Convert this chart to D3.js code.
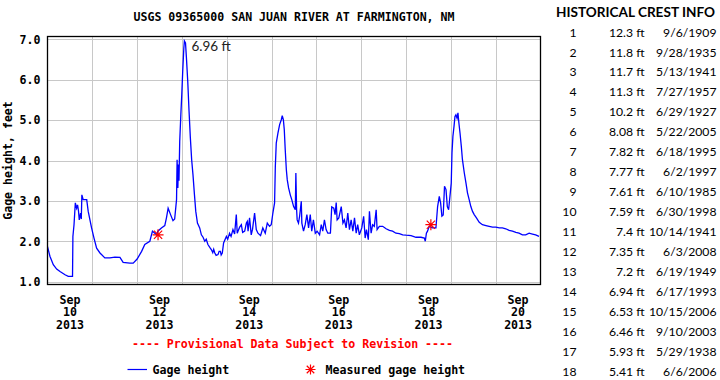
<!DOCTYPE html>
<html>
<head>
<meta charset="utf-8">
<script src="https://cdn.jsdelivr.net/npm/d3@7"></script>
<style>
  html, body { margin: 0; padding: 0; background: #fff; }
  svg { display: block; }
  .mono { font-family: "DejaVu Sans Mono", "Liberation Mono", monospace; font-weight: bold; font-size: 11.6px; }
  .sans { font-family: Lato, "Open Sans", sans-serif; }
</style>
</head>
<body>
<svg id="chart" width="720" height="380"></svg>
<script>
// ---------------- DATA ----------------
const chartTitle = "USGS 09365000 SAN JUAN RIVER AT FARMINGTON, NM";
const yAxisTitle = "Gage height, feet";
const provisionalNote = "---- Provisional Data Subject to Revision ----";
const startTime = "2013-09-10T00:00:00";
const endTime = "2013-09-21T00:00:00";

// gage height series: [hours since Sep 10 00:00, feet]
const gageHeight = [
  [0,1.87],[1.3,1.63],[3.1,1.42],[4.9,1.31],[6.7,1.25],[9.4,1.17],[11.1,1.13],[13.4,1.13],
  [13.6,2.12],[14.2,2.41],[14.9,2.95],[15.6,2.82],[16.1,2.9],[16.6,2.75],[17.0,2.53],[17.7,2.7],
  [18.1,2.55],[18.4,3.15],[19.1,3.03],[21.0,3.03],[21.8,2.74],[23.6,2.33],[24.9,2.08],[26.3,1.83],
  [28.1,1.71],[30.7,1.59],[33.4,1.59],[36.1,1.61],[38.8,1.60],[40.5,1.48],[44.1,1.46],[45.9,1.46],
  [48.0,1.56],[50.4,1.75],[52.1,1.92],[54.8,2.0],[56.2,2.25],[57.5,2.2],[58.4,2.16],[59.1,2.25],
  [61.0,2.33],[62.8,2.39],[63.7,2.58],[64.6,2.82],[65.9,2.66],[67.2,2.51],[68.1,2.55],[69.1,3.03],
  [69.4,4.02],[69.8,3.32],[70.1,3.9],[70.4,3.5],[70.8,4.47],[71.4,5.13],[71.9,5.63],[72.4,6.2],
  [73.0,6.78],[73.3,6.96],[73.9,6.91],[74.4,6.54],[75.1,5.96],[75.8,5.22],[76.5,4.56],[77.2,4.02],
  [77.9,3.65],[78.7,3.15],[79.4,2.74],[80.3,2.45],[81.5,2.33],[82.4,2.16],[83.3,2.1],[84.2,2.0],
  [85.0,2.05],[85.9,1.92],[86.9,1.85],[87.8,1.79],[88.5,1.72],[89.0,1.8],[89.6,1.71],[90.3,1.65],
  [91.3,1.67],[91.9,1.75],[92.6,1.75],[93.0,1.66],[93.6,1.71],[94.3,1.96],[95.8,2.12],[96.5,2.05],
  [97.5,2.2],[98.3,2.12],[99.3,2.29],[100.2,2.18],[101.1,2.66],[101.6,2.2],[102.0,2.25],[102.9,2.35],
  [103.8,2.41],[104.5,2.22],[105.6,2.25],[106.5,2.45],[107.0,2.49],[107.4,2.25],[108.2,2.58],[109.1,2.16],
  [109.8,2.3],[110.9,2.7],[111.8,2.29],[112.7,2.2],[114.1,2.14],[115.3,2.33],[116.6,2.2],[117.7,2.45],
  [118.9,2.37],[119.8,2.41],[120.7,2.7],[121.6,2.95],[122.0,3.85],[122.5,4.43],[123.4,4.68],[124.3,4.89],
  [125.2,5.01],[125.7,5.11],[126.3,5.01],[126.8,4.76],[127.3,4.27],[127.9,3.77],[128.4,3.52],[129.1,3.32],
  [130.0,3.15],[130.8,3.03],[131.8,2.86],[132.7,2.78],[133.0,3.69],[133.4,2.78],[133.7,2.53],[134.4,2.45],
  [135.0,2.62],[135.9,2.99],[136.2,2.45],[137.1,2.25],[138.0,2.41],[138.9,2.66],[139.8,2.33],[140.7,2.66],
  [141.5,2.25],[142.4,2.53],[143.4,2.2],[144.4,2.25],[145.7,2.16],[146.6,2.41],[147.4,2.25],[148.3,2.53],
  [149.2,2.29],[150.1,2.2],[151.5,2.2],[152.2,2.85],[153.3,2.82],[154.0,2.66],[154.6,2.96],[155.1,2.53],
  [156.0,2.58],[157.3,2.86],[158.2,2.45],[159.0,2.53],[159.9,2.33],[160.8,2.7],[161.7,2.29],[162.6,2.53],
  [163.5,2.25],[164.4,2.58],[165.3,2.2],[166.1,2.41],[167.0,2.16],[168.3,2.33],[169.3,2.62],[170.1,2.08],
  [170.8,2.29],[171.8,2.04],[172.4,2.74],[173.3,2.2],[174.1,2.41],[175.0,2.37],[176.0,2.78],[176.5,2.29],
  [177.7,2.37],[179.5,2.37],[181.3,2.31],[183.1,2.27],[184.8,2.25],[186.6,2.2],[188.4,2.19],[190.2,2.16],
  [192.0,2.15],[194.7,2.14],[197.3,2.1],[200.0,2.1],[201.8,2.08],[202.3,2.0],[202.9,2.2],[203.5,2.25],
  [204.4,2.37],[206.2,2.33],[208.0,2.33],[208.9,2.86],[209.8,3.11],[210.5,2.95],[211.2,2.62],[211.9,2.65],
  [212.6,3.36],[213.4,3.28],[214.1,2.86],[214.8,2.78],[215.5,3.11],[216.2,3.44],[216.6,4.19],[217.1,4.6],
  [217.7,4.85],[218.2,5.09],[218.7,5.13],[219.3,5.05],[219.8,5.18],[220.3,4.93],[220.9,4.68],[221.6,4.35],
  [222.2,4.02],[223.2,3.69],[224.1,3.44],[224.9,3.2],[225.8,3.03],[226.7,2.86],[227.6,2.74],[228.5,2.66],
  [229.7,2.58],[231.2,2.47],[232.9,2.41],[234.8,2.39],[236.5,2.37],[238.3,2.35],[240.1,2.35],[241.9,2.33],
  [243.6,2.33],[245.4,2.31],[247.2,2.27],[249.0,2.25],[250.8,2.22],[252.5,2.2],[254.3,2.16],[256.1,2.16],
  [257.9,2.2],[259.7,2.18],[261.4,2.16],[263.2,2.12]
];

// measured gage height: [hours since Sep 10 00:00, feet]
const measuredHeight = [[59.2,2.16],[205.3,2.41]];

const peakLabel = "6.96 ft";
const yTicks = [1, 2, 3, 4, 5, 6, 7];
const xTickDays = ["2013-09-10","2013-09-12","2013-09-14","2013-09-16","2013-09-18","2013-09-20"];
const xTickMonth = ["Sep","Sep","Sep","Sep","Sep","Sep"];
const xTickDay = ["10","12","14","16","18","20"];
const xTickYear = ["2013","2013","2013","2013","2013","2013"];

const legendLabels = ["Gage height", "Measured gage height"];

const crestTitle = "HISTORICAL CREST INFO";
const crestRank = [1,2,3,4,5,6,7,8,9,10,11,12,13,14,15,16,17,18];
const crestHeight = ["12.3","11.8","11.7","11.3","10.2","8.08","7.82","7.77","7.61","7.59","7.4","7.35","7.2","6.94","6.53","6.46","5.93","5.41"];
const crestDate = ["9/6/1909","9/28/1935","5/13/1941","7/27/1957","6/29/1927","5/22/2005","6/18/1995","6/2/1997","6/10/1985","6/30/1998","10/14/1941","6/3/2008","6/19/1949","6/17/1993","10/15/2006","9/10/2003","5/29/1938","6/6/2006"];

// ---------------- CHART ----------------
const svg = d3.select("#chart");
const plot = { left: 47.5, right: 540.5, top: 36.5, bottom: 284.5 };
const t0 = new Date(startTime);
const hourToDate = h => new Date(t0.getTime() + h * 3600e3);

const x = d3.scaleTime().domain([t0, new Date(endTime)]).range([plot.left, plot.right]);
const y = d3.scaleLinear().domain([0.93, 7.07]).range([plot.bottom, plot.top]);

// grid
const gridColor = "#c8c8c8";
const dayLines = d3.timeDay.range(d3.timeDay.offset(t0, 1), new Date(endTime));
svg.append("g").selectAll("line").data(dayLines).join("line")
  .attr("x1", d => Math.round(x(d)) + 0.5).attr("x2", d => Math.round(x(d)) + 0.5)
  .attr("y1", plot.top).attr("y2", plot.bottom)
  .attr("stroke", gridColor).attr("stroke-width", 1);
svg.append("g").selectAll("line").data(yTicks).join("line")
  .attr("x1", plot.left).attr("x2", plot.right)
  .attr("y1", d => Math.round(y(d)) + 0.5).attr("y2", d => Math.round(y(d)) + 0.5)
  .attr("stroke", gridColor).attr("stroke-width", 1);

// y axis labels
const yAxis = d3.axisLeft(y).tickValues(yTicks).tickFormat(d3.format(".1f")).tickSize(0).tickPadding(7);
const gy = svg.append("g").attr("transform", `translate(${plot.left},0)`).call(yAxis);
gy.select(".domain").remove();
gy.selectAll("text").attr("class", "mono").attr("fill", "#000").style("font-family", null).style("font-size", null);
gy.attr("font-family", null).attr("font-size", null);

// x axis labels (3 lines, centered at noon)
const xl = svg.append("g");
xTickDays.forEach((d, i) => {
  const cx = x(d3.timeHour.offset(new Date(d + "T00:00:00"), 12));
  const t = xl.append("text").attr("class", "mono").attr("text-anchor", "middle").attr("fill", "#000");
  [xTickMonth[i], xTickDay[i], xTickYear[i]].forEach((s, k) => {
    t.append("tspan").attr("x", cx).attr("y", 303.5 + k * 12.8).text(s);
  });
});

// gage height line
const line = d3.line().x(d => x(hourToDate(d[0]))).y(d => y(d[1]));
svg.append("path").datum(gageHeight)
  .attr("d", line).attr("fill", "none").attr("stroke", "#0000ff").attr("stroke-width", 1.3)
  .attr("stroke-linejoin", "miter");

// asterisk marker
function asterisk(g, cx, cy, r) {
  const a = r * 0.75;
  g.append("path")
    .attr("d", `M${cx - r},${cy}H${cx + r}M${cx},${cy - r}V${cy + r}M${cx - a},${cy - a}L${cx + a},${cy + a}M${cx - a},${cy + a}L${cx + a},${cy - a}`)
    .attr("stroke", "#ff0000").attr("stroke-width", 1.2).attr("fill", "none");
}
measuredHeight.forEach(d => asterisk(svg, x(hourToDate(d[0])), y(d[1]), 5.5));

// plot border
svg.append("rect").attr("x", plot.left).attr("y", plot.top)
  .attr("width", plot.right - plot.left).attr("height", plot.bottom - plot.top)
  .attr("fill", "none").attr("stroke", "#000").attr("stroke-width", 1.3);

// peak annotation
const peak = gageHeight.reduce((a, b) => (b[1] > a[1] ? b : a));
svg.append("text").attr("class", "sans")
  .attr("x", x(hourToDate(peak[0])) + 7).attr("y", y(peak[1]) + 10.5)
  .attr("font-size", 13.5).attr("fill", "#222").text(peakLabel);

// title
svg.append("text").attr("class", "mono").attr("text-anchor", "middle")
  .attr("x", (plot.left + plot.right) / 2).attr("y", 21).attr("fill", "#000").text(chartTitle);

// y axis title
svg.append("text").attr("class", "mono").attr("text-anchor", "middle")
  .attr("transform", `translate(12,${(plot.top + plot.bottom) / 2}) rotate(-90)`)
  .attr("fill", "#000").text(yAxisTitle);

// provisional note
svg.append("text").attr("class", "mono").attr("text-anchor", "middle")
  .attr("x", 292.5).attr("y", 348).attr("fill", "#ff0000").text(provisionalNote);

// legend
const lg = svg.append("g");
lg.append("line").attr("x1", 127.5).attr("x2", 147).attr("y1", 369.5).attr("y2", 369.5)
  .attr("stroke", "#0000ff").attr("stroke-width", 1.2);
lg.append("text").attr("class", "mono").attr("x", 152.5).attr("y", 374).attr("fill", "#000").text(legendLabels[0]);
asterisk(lg, 310.5, 369.5, 5);
lg.append("text").attr("class", "mono").attr("x", 325.5).attr("y", 374).attr("fill", "#000").text(legendLabels[1]);

// crest table
const ct = svg.append("g").attr("class", "sans").attr("fill", "#000");
ct.append("text").attr("x", 635.5).attr("y", 16.5).attr("text-anchor", "middle")
  .attr("font-weight", "bold").attr("font-size", 13.6).text(crestTitle);
const rowY = i => 32.2 + i * 19.94;
const rowFont = 12.2;
crestRank.forEach((r, i) => {
  ct.append("text").attr("x", 576.5).attr("y", rowY(i)).attr("dy", "0.36em").attr("text-anchor", "end")
    .attr("font-size", rowFont).text(r);
  ct.append("text").attr("x", 644.5).attr("y", rowY(i)).attr("dy", "0.36em").attr("text-anchor", "end")
    .attr("font-size", rowFont).text(crestHeight[i] + " ft");
  ct.append("text").attr("x", 716.5).attr("y", rowY(i)).attr("dy", "0.36em").attr("text-anchor", "end")
    .attr("font-size", rowFont).text(crestDate[i]);
});
</script>
</body>
</html>
